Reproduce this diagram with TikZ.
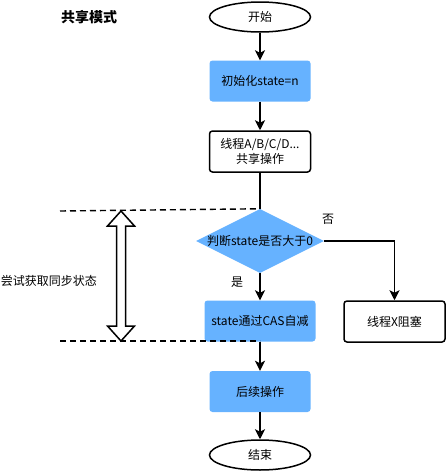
\documentclass[tikz,border=0pt]{standalone}
\usepackage{fontspec}
\setmainfont{Noto Sans CJK SC}
\usetikzlibrary{shapes.geometric,arrows.meta}
\definecolor{boxblue}{HTML}{66B2FF}
\begin{document}
\begin{tikzpicture}[x=1pt,y=-1pt,font=\fontsize{12}{15}\selectfont,
    terminal/.style={ellipse,draw,line width=1.5pt,minimum width=101pt,minimum height=30pt,inner sep=0pt},
    stepbox/.style={draw,rounded corners=3pt,line width=1.5pt,minimum width=101pt,minimum height=41pt,align=center,inner sep=0pt},
    bluebox/.style={fill=boxblue,rounded corners=3pt,minimum width=101pt,minimum height=41pt,inner sep=0pt},
    flow/.style={line width=1.8pt,-{Stealth[length=10pt,width=10pt,inset=2.5pt]}},
    guide/.style={line width=1.4pt,dash pattern=on 6pt off 4pt}]
    \useasboundingbox (0,0) rectangle (446,472);
    \node[font=\fontsize{14}{16}\selectfont\bfseries] (title) at (89,17) {共享模式};
    \node[terminal] (start) at (260,17) {开始};
    \node[bluebox] (init) at (260,81) {初始化state=n};
    \node[stepbox] (share) at (260,151.5) {线程A/B/C/D...\\共享操作};
    \node[diamond,aspect=2,fill=boxblue,inner sep=0pt,minimum width=123pt,minimum height=60pt] (dec) at (260,241) {判断state是否大于0};
    \node[bluebox,minimum width=111pt] (cas) at (260,321) {state通过CAS自减};
    \node[stepbox] (block) at (394.5,321.5) {线程X阻塞};
    \node[bluebox] (next) at (260,391.5) {后续操作};
    \node[terminal] (stop) at (260,455) {结束};
    \node (no) at (328,219) {否};
    \node (yes) at (237,282) {是};
    \node (try) at (49,281) {尝试获取同步状态};
    \draw[flow] (start) -- (init);
    \draw[flow] (init) -- (share);
    \draw[line width=1.8pt] (share) -- (dec.north);
    \draw[flow] (dec.south) -- (cas);
    \draw[flow] (dec.east) -| (block.north);
    \draw[flow] (cas) -- (next);
    \draw[flow] (next) -- (stop);
    \coordinate (top) at (60,211);
    \coordinate (bottom) at (60,341);
    \draw[guide] (top) -- (dec.north);
    \draw[guide] (bottom) -- (bottom -| cas.south);
    \draw[line width=1.5pt,fill=white] (121,211) -- (134.5,226) -- (125.5,226) -- (125.5,326) -- (134.5,326) -- (121,341) -- (107.5,326) -- (116.5,326) -- (116.5,226) -- (107.5,226) -- cycle;
\end{tikzpicture}
\end{document}
